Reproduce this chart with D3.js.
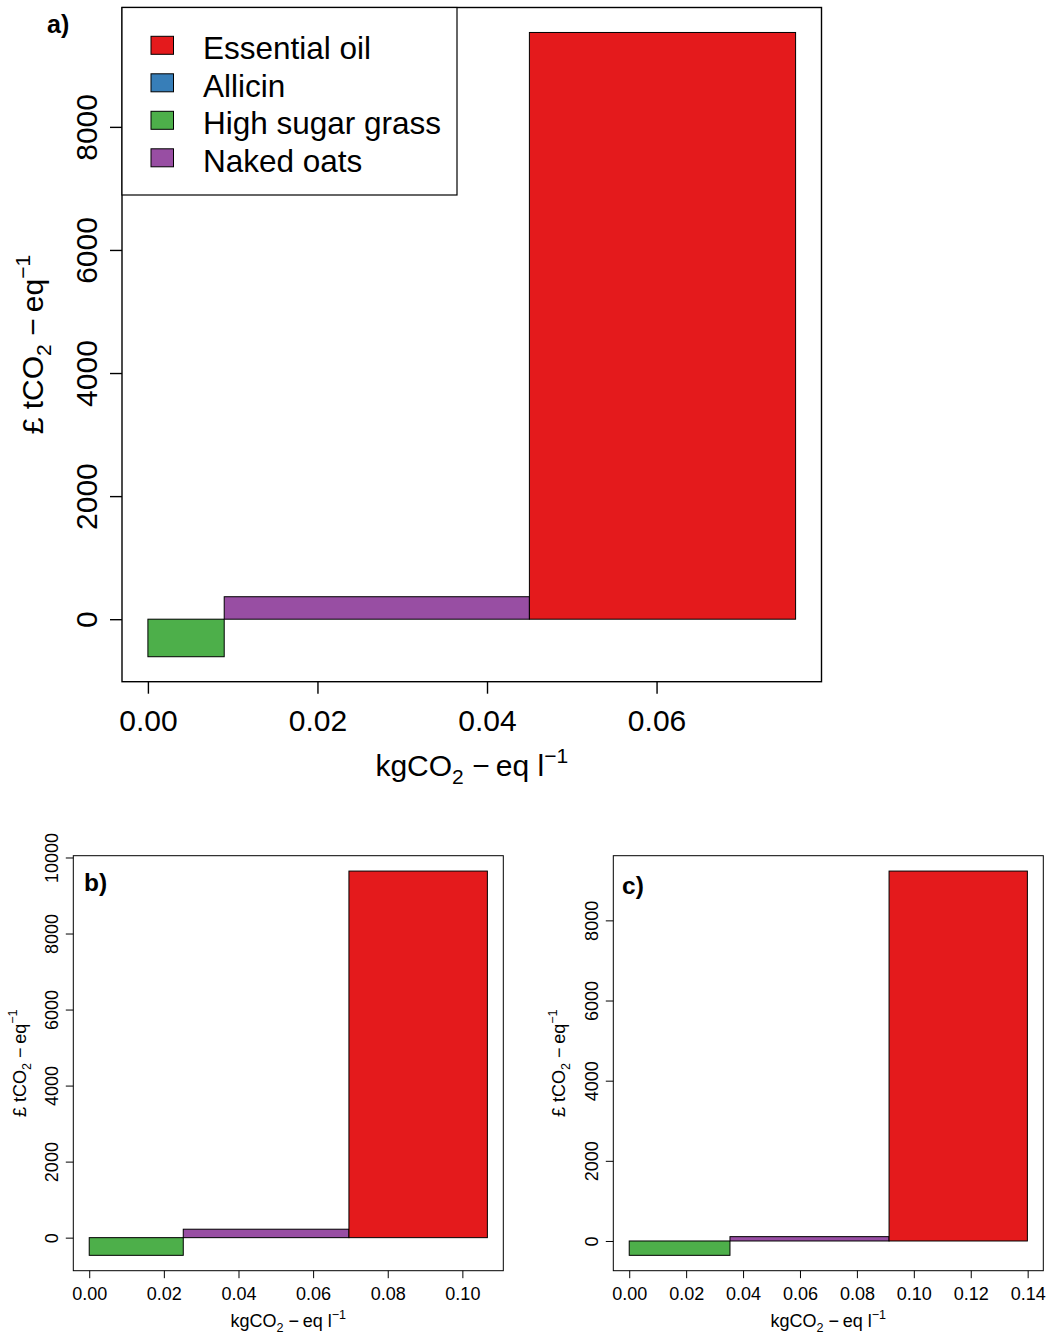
<!DOCTYPE html>
<html>
<head>
<meta charset="utf-8">
<script src="https://cdn.jsdelivr.net/npm/d3@7"></script>
<style>
  html, body { margin: 0; padding: 0; background: #fff; }
  svg { display: block; }
  text { font-family: "Liberation Sans", Arial, Helvetica, sans-serif; fill: #000; }
</style>
</head>
<body>
<svg id="chart" width="1048" height="1338"></svg>
<script>
// ---------------- DATA ----------------
// Options in the order they are stacked along the x axis (cheapest first)
const categories = ["High sugar grass", "Naked oats", "Essential oil"];

// Panel a
const abatementA = [0.009, 0.036, 0.0314];   // kgCO2-eq l-1 (bar widths)
const costA      = [-610, 365, 9534];        // £ tCO2-eq-1 (bar heights)
const xTicksA    = [0, 0.02, 0.04, 0.06];
const yTicksA    = [0, 2000, 4000, 6000, 8000];

// Panel b
const abatementB = [0.0252, 0.0444, 0.0371];
const costB      = [-465, 222, 9643];
const xTicksB    = [0, 0.02, 0.04, 0.06, 0.08, 0.10];
const yTicksB    = [0, 2000, 4000, 6000, 8000, 10000];

// Panel c
const abatementC = [0.0354, 0.0559, 0.0486];
const costC      = [-358, 108, 9230];
const xTicksC    = [0, 0.02, 0.04, 0.06, 0.08, 0.10, 0.12, 0.14];
const yTicksC    = [0, 2000, 4000, 6000, 8000];

// Legend
const legendLabels = ["Essential oil", "Allicin", "High sugar grass", "Naked oats"];
const panelLabels  = ["a)", "b)", "c)"];

// ---------------- STYLE ----------------
const colorOf = {
  "Essential oil": "#E41A1C",
  "Allicin": "#377EB8",
  "High sugar grass": "#4DAF4A",
  "Naked oats": "#984EA3"
};

const svg = d3.select("#chart");

function mathText(sel, parts, fs) {
  parts.forEach(p => {
    const ts = sel.append("tspan").text(p.t);
    if (p.sub) {
      ts.attr("font-size", fs * 0.7).attr("dy", fs * 0.28);
      sel.append("tspan").attr("dy", -fs * 0.28).text("\u200A");
    } else if (p.sup) {
      ts.attr("font-size", fs * 0.7).attr("dy", -fs * 0.45);
    }
  });
}

const xTitleParts = [{t: "kgCO"}, {t: "2", sub: true}, {t: "\u2009\u2212\u2009eq l"}, {t: "\u22121", sup: true}];
const yTitleParts = [{t: "\u00A3 tCO"}, {t: "2", sub: true}, {t: "\u2009\u2212\u2009eq"}, {t: "\u22121", sup: true}];

function drawPanel(cfg) {
  const {abatement, cost, xTicks, yTicks, box, fs, tickLen, xLabBase, xTitleBase,
         yLabBase, yTitleBase, xFmt, lw} = cfg;

  // cumulative positions along x
  const ends = d3.cumsum(abatement);
  const starts = ends.map((e, i) => e - abatement[i]);
  const xmax = ends[ends.length - 1];
  const [ymin, ymax] = d3.extent(cost);
  const xr = xmax, yr = ymax - ymin;

  const x = d3.scaleLinear()
    .domain([-0.04 * xr, xmax + 0.04 * xr])
    .range([box.left, box.right]);
  const y = d3.scaleLinear()
    .domain([ymin - 0.04 * yr, ymax + 0.04 * yr])
    .range([box.bottom, box.top]);

  const g = svg.append("g");

  // bars
  g.selectAll("rect.bar")
    .data(categories.map((c, i) => ({c, s: starts[i], e: ends[i], v: cost[i]})))
    .join("rect")
    .attr("class", "bar")
    .attr("x", d => x(d.s))
    .attr("width", d => x(d.e) - x(d.s))
    .attr("y", d => y(Math.max(0, d.v)))
    .attr("height", d => Math.abs(y(d.v) - y(0)))
    .attr("fill", d => colorOf[d.c])
    .attr("stroke", "#000")
    .attr("stroke-width", 1);

  // x axis
  const xa = g.append("g")
    .attr("transform", `translate(0,${box.bottom})`)
    .call(d3.axisBottom(x).tickValues(xTicks).tickFormat(xFmt).tickSize(tickLen).tickSizeOuter(0));
  xa.select(".domain").remove();
  xa.selectAll(".tick line").attr("stroke", "#000").attr("stroke-width", lw);
  xa.selectAll(".tick text")
    .attr("y", xLabBase - box.bottom).attr("dy", 0)
    .attr("font-size", fs).attr("font-family", null).attr("fill", "#000");

  // y axis
  const ya = g.append("g")
    .attr("transform", `translate(${box.left},0)`)
    .call(d3.axisLeft(y).tickValues(yTicks).tickFormat(d3.format("d")).tickSize(tickLen).tickSizeOuter(0));
  ya.select(".domain").remove();
  ya.selectAll(".tick line").attr("stroke", "#000").attr("stroke-width", lw);
  ya.selectAll(".tick text")
    .attr("x", 0).attr("dy", 0).attr("y", 0)
    .attr("transform", `translate(${yLabBase - box.left},0) rotate(-90)`)
    .attr("text-anchor", "middle")
    .attr("font-size", fs).attr("font-family", null).attr("fill", "#000");

  // plot box
  g.append("rect")
    .attr("x", box.left).attr("y", box.top)
    .attr("width", box.right - box.left).attr("height", box.bottom - box.top)
    .attr("fill", "none").attr("stroke", "#000").attr("stroke-width", lw);

  // x title
  const xt = g.append("text")
    .attr("x", (box.left + box.right) / 2).attr("y", xTitleBase)
    .attr("text-anchor", "middle").attr("font-size", fs);
  mathText(xt, xTitleParts, fs);

  // y title
  const yt = g.append("text")
    .attr("transform", `translate(${yTitleBase},${(box.top + box.bottom) / 2}) rotate(-90)`)
    .attr("text-anchor", "middle").attr("font-size", fs);
  mathText(yt, yTitleParts, fs);

  // panel label
  g.append("text")
    .attr("x", cfg.tag.x).attr("y", cfg.tag.y)
    .attr("font-size", cfg.tag.fs).attr("font-weight", "bold")
    .text(cfg.tag.t);

  return {g, x, y};
}

const fmt2 = d3.format(".2f");

// ---------------- PANEL A ----------------
const pa = drawPanel({
  abatement: abatementA, cost: costA, xTicks: xTicksA, yTicks: yTicksA,
  box: {left: 122, right: 821.5, top: 7.5, bottom: 681.7},
  fs: 30, tickLen: 12, lw: 1.4,
  xLabBase: 731, xTitleBase: 776, yLabBase: 96.5, yTitleBase: 43,
  xFmt: fmt2,
  tag: {t: panelLabels[0], x: 47, y: 33, fs: 25}
});

// legend
const leg = pa.g.append("g");
leg.append("rect")
  .attr("x", 122).attr("y", 7.5).attr("width", 335).attr("height", 187.5)
  .attr("fill", "#fff").attr("stroke", "#000").attr("stroke-width", 1.2);
legendLabels.forEach((lab, i) => {
  const cy = 45.3 + i * 37.5;
  leg.append("rect")
    .attr("x", 151).attr("y", cy - 9).attr("width", 22.5).attr("height", 18)
    .attr("fill", colorOf[lab]).attr("stroke", "#000").attr("stroke-width", 1);
  leg.append("text")
    .attr("x", 203).attr("y", cy + 14)
    .attr("font-size", 31.5)
    .text(lab);
});

// ---------------- PANEL B ----------------
drawPanel({
  abatement: abatementB, cost: costB, xTicks: xTicksB, yTicks: yTicksB,
  box: {left: 73.3, right: 503.3, top: 855.7, bottom: 1270.7},
  fs: 18, tickLen: 7.5, lw: 1,
  xLabBase: 1300, xTitleBase: 1327, yLabBase: 58.3, yTitleBase: 25.5,
  xFmt: fmt2,
  tag: {t: panelLabels[1], x: 84, y: 891, fs: 24.5}
});

// ---------------- PANEL C ----------------
drawPanel({
  abatement: abatementC, cost: costC, xTicks: xTicksC, yTicks: yTicksC,
  box: {left: 613.3, right: 1043.3, top: 855.7, bottom: 1270.7},
  fs: 18, tickLen: 7.5, lw: 1,
  xLabBase: 1300, xTitleBase: 1327, yLabBase: 598.3, yTitleBase: 565,
  xFmt: fmt2,
  tag: {t: panelLabels[2], x: 622, y: 894, fs: 24.5}
});
</script>
</body>
</html>
